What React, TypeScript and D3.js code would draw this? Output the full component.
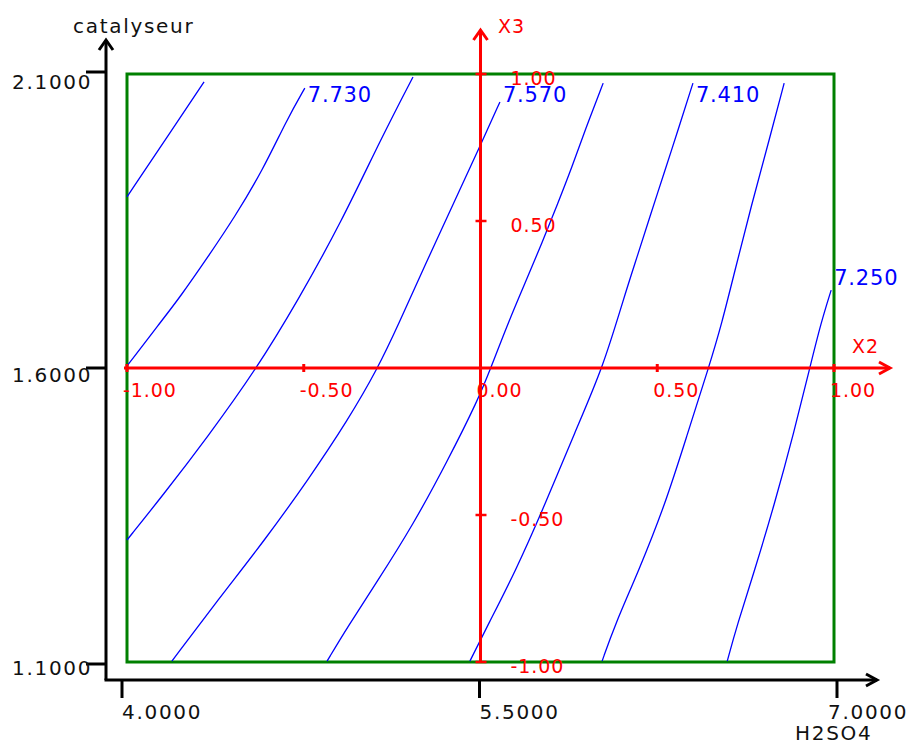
import React from "react";
import * as d3 from "d3";

const W = 914;
const H = 745;

// Natural factor ticks
const h2so4Ticks = [4.0, 5.5, 7.0];
const catalyseurTicks = [1.1, 1.6, 2.1];

// Coded factor ticks
const x2Ticks = [-1, -0.5, 0, 0.5, 1];
const x3Ticks = [-1, -0.5, 0.5, 1];

// Iso-response levels (every other one carries a label)
const levels = [7.81, 7.73, 7.65, 7.57, 7.49, 7.41, 7.33, 7.25];
const labelledLevels = [7.73, 7.57, 7.41, 7.25];

// Iso-response curves in coded units [X2, X3], listed from the upper end downward
const iso781: [number, number][] = [
  [-0.782, 0.973], [-0.873, 0.81], [-1.0, 0.582],
];
const iso773: [number, number][] = [
  [-0.497, 0.952], [-0.548, 0.844], [-0.616, 0.673], [-0.695, 0.514], [-0.771, 0.378],
  [-0.85, 0.241], [-0.907, 0.153], [-1.0, 0.007],
];
const iso765: [number, number][] = [
  [-0.191, 0.99], [-0.279, 0.786], [-0.395, 0.493], [-0.516, 0.231], [-0.632, 0.0],
  [-0.774, -0.238], [-0.898, -0.432], [-1.0, -0.585],
];
const iso757: [number, number][] = [
  [0.055, 0.905], [0.004, 0.769], [-0.072, 0.571], [-0.157, 0.35], [-0.233, 0.146],
  [-0.29, 0.0], [-0.375, -0.177], [-0.488, -0.381], [-0.61, -0.585], [-0.743, -0.789],
  [-0.873, -0.997],
];
const iso749: [number, number][] = [
  [0.347, 0.969], [0.296, 0.81], [0.259, 0.684], [0.219, 0.561], [0.174, 0.425],
  [0.126, 0.289], [0.078, 0.153], [0.03, 0.003], [-0.007, -0.109], [-0.095, -0.32],
  [-0.191, -0.534], [-0.293, -0.728], [-0.378, -0.884], [-0.434, -0.997],
];
const iso741: [number, number][] = [
  [0.601, 0.969], [0.559, 0.81], [0.522, 0.673], [0.479, 0.514], [0.443, 0.378],
  [0.406, 0.241], [0.347, 0.003], [0.267, -0.218], [0.182, -0.466], [0.098, -0.694],
  [0.021, -0.874], [-0.03, -0.997],
];
const iso733: [number, number][] = [
  [0.859, 0.969], [0.819, 0.786], [0.768, 0.561], [0.72, 0.333], [0.683, 0.153],
  [0.646, 0.003], [0.587, -0.218], [0.522, -0.466], [0.446, -0.694], [0.38, -0.874],
  [0.344, -0.997],
];
const iso725: [number, number][] = [
  [0.992, 0.265], [0.963, 0.153], [0.932, 0.003], [0.887, -0.218], [0.831, -0.466],
  [0.774, -0.694], [0.726, -0.874], [0.698, -0.997],
];
const isoCurves = [iso781, iso773, iso765, iso757, iso749, iso741, iso733, iso725];

const FONT = "'DejaVu Sans', Verdana, sans-serif";
const RED = "#ff0000";
const GREEN = "#008000";
const BLUE = "#0000ff";
const INK = "#111111";

// coded scales (design window)
const sx = d3.scaleLinear().domain([-1, 1]).range([127, 834]);
const sy = d3.scaleLinear().domain([-1, 1]).range([662, 74]);
// natural scales (outer axes)
const ax = d3.scaleLinear().domain([4, 7]).range([122, 837]);
const ay = d3.scaleLinear().domain([1.1, 2.1]).range([664, 72]);
const ayText = d3.scaleLinear().domain([1.1, 2.1]).range([675, 89]);

const originX = 106;
const originY = 680;
const xAxisEnd = 877;
const yAxisEnd = 40;

const fmt4 = (v: number) => v.toFixed(4);
const fmt2 = (v: number) => v.toFixed(2);
const fmt3 = (v: number) => v.toFixed(3);

function Chevron({ x, y, dir, color }: { x: number; y: number; dir: "right" | "up"; color: string }) {
  const pts =
    dir === "right"
      ? [[x - 11, y - 6], [x, y], [x - 11, y + 6]]
      : [[x - 7, y + 10], [x, y], [x + 7, y + 10]];
  return (
    <polyline
      points={pts.map((p) => p.join(",")).join(" ")}
      fill="none"
      stroke={color}
      strokeWidth={3}
      strokeLinejoin="miter"
    />
  );
}

export default function App() {
  const line = d3
    .line<[number, number]>()
    .x((d) => sx(d[0]))
    .y((d) => sy(d[1]))
    .curve(d3.curveBasis);

  const x0 = sx(0);
  const y0 = sy(0);

  return (
    <svg
      width={W}
      height={H}
      style={{ position: "absolute", left: 0, top: 0, background: "#fff" }}
      fontFamily={FONT}
    >
      {/* design window */}
      <rect
        x={sx(-1)}
        y={sy(1)}
        width={sx(1) - sx(-1)}
        height={sy(-1) - sy(1)}
        fill="none"
        stroke={GREEN}
        strokeWidth={3}
      />

      {/* iso-response curves */}
      {isoCurves.map((c, i) => (
        <path key={i} d={line(c) || ""} fill="none" stroke={BLUE} strokeWidth={1.3} />
      ))}

      {/* outer natural axes */}
      <line x1={originX} y1={originY} x2={originX} y2={yAxisEnd} stroke="#000" strokeWidth={3} />
      <Chevron x={originX} y={yAxisEnd} dir="up" color="#000" />
      <line x1={originX - 1.5} y1={originY} x2={xAxisEnd} y2={originY} stroke="#000" strokeWidth={3} />
      <Chevron x={xAxisEnd} y={originY} dir="right" color="#000" />

      {catalyseurTicks.map((v) => (
        <g key={v}>
          <line x1={originX - 20} x2={originX} y1={ay(v)} y2={ay(v)} stroke="#000" strokeWidth={3} />
          <text
            x={12}
            y={ayText(v)}
            fontSize={20}
            fill={INK}
            style={{ letterSpacing: "1.7px" }}
          >
            {fmt4(v)}
          </text>
        </g>
      ))}
      {h2so4Ticks.map((v) => (
        <g key={v}>
          <line x1={ax(v)} x2={ax(v)} y1={originY} y2={originY + 18} stroke="#000" strokeWidth={3} />
          <text
            x={Math.min(ax(v), W - 86)}
            y={719}
            fontSize={20}
            fill={INK}
            style={{ letterSpacing: "1.7px" }}
          >
            {fmt4(v)}
          </text>
        </g>
      ))}
      <text x={73} y={33} fontSize={20} fill={INK} style={{ letterSpacing: "1.7px" }}>
        catalyseur
      </text>
      <text x={795} y={740} fontSize={20} fill={INK} style={{ letterSpacing: "1.7px" }}>
        H2SO4
      </text>

      {/* coded axes */}
      <line x1={sx(-1) - 3} y1={y0} x2={890} y2={y0} stroke={RED} strokeWidth={3} />
      <Chevron x={890} y={y0} dir="right" color={RED} />
      <line x1={x0} y1={sy(-1)} x2={x0} y2={30} stroke={RED} strokeWidth={3} />
      <Chevron x={x0} y={30} dir="up" color={RED} />

      {x2Ticks.map((v) => (
        <g key={"x2" + v}>
          <line x1={sx(v)} x2={sx(v)} y1={y0 - 4} y2={y0 + 4} stroke={RED} strokeWidth={3} />
          <text x={sx(v) - 4} y={y0 + 29} fontSize={19} fill={RED} style={{ letterSpacing: "0.9px" }}>
            {fmt2(v)}
          </text>
        </g>
      ))}
      {x3Ticks.map((v) => (
        <g key={"x3" + v}>
          <line x1={x0 - 5} x2={x0 + 6} y1={sy(v)} y2={sy(v)} stroke={RED} strokeWidth={2.5} />
          <text x={x0 + 30} y={sy(v) + 11} fontSize={19} fill={RED} style={{ letterSpacing: "0.9px" }}>
            {fmt2(v)}
          </text>
        </g>
      ))}
      <text x={852} y={353} fontSize={19} fill={RED} style={{ letterSpacing: "0.9px" }}>
        X2
      </text>
      <text x={498} y={33} fontSize={19} fill={RED} style={{ letterSpacing: "0.9px" }}>
        X3
      </text>

      {/* level labels at the upper end of every other curve */}
      {labelledLevels.map((lv) => {
        const c = isoCurves[levels.indexOf(lv)];
        const px = sx(c[0][0]);
        const py = sy(c[0][1]);
        return (
          <text
            key={lv}
            x={px + 3}
            y={Math.max(py - 5, sy(1) + 28)}
            fontSize={21}
            fill={BLUE}
            style={{ letterSpacing: "0.8px" }}
          >
            {fmt3(lv)}
          </text>
        );
      })}
    </svg>
  );
}
